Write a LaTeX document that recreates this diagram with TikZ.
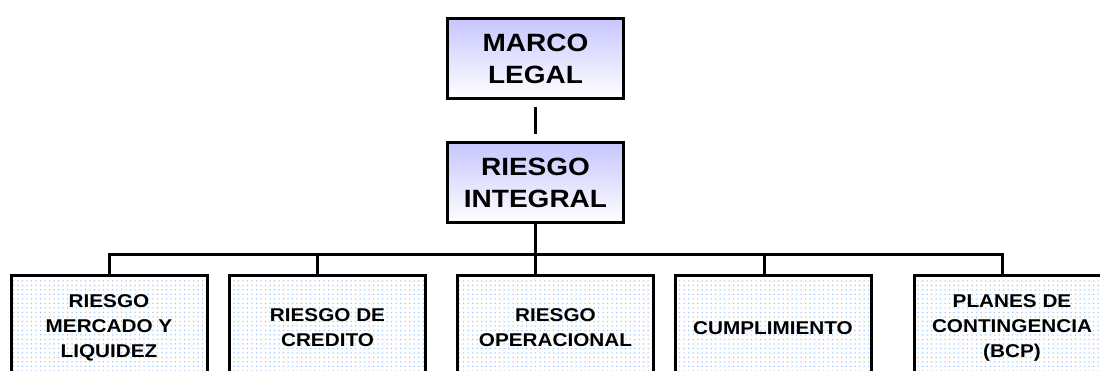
\documentclass[tikz,border=0pt]{standalone}
\usepackage{fontspec}
\setmainfont{Liberation Sans}[FakeStretch=1.12]
\usetikzlibrary{patterns.meta}
\definecolor{lavanda}{RGB}{198,198,255}
\definecolor{puntos}{RGB}{150,195,250}
\begin{document}
\begin{tikzpicture}[x=1pt,y=-1pt,line width=3pt,
    cabeza/.style={draw,top color=lavanda,bottom color=white,minimum width=176pt,minimum height=80pt,align=center,font=\fontsize{25}{32}\selectfont\bfseries},
    area/.style={draw,pattern={Dots[distance=4.5pt,radius=0.75pt]},pattern color=puntos,minimum width=196pt,minimum height=104pt,align=center,font=\fontsize{18.5}{25}\selectfont\bfseries}]
  \useasboundingbox (0,0) rectangle (1100,371);
  \clip (0,0) rectangle (1100,371);
  \node[cabeza] (marco) at (535.5,58.5) {MARCO\\LEGAL};
  \node[cabeza] (integral) at (535.5,183) {RIESGO\\INTEGRAL};
  \coordinate (barra) at (535.5,255);
  \node[area] (mercado) at (109,328) {RIESGO\\MERCADO Y\\LIQUIDEZ};
  \node[area] (credito) at (327.5,328) {RIESGO DE\\CREDITO};
  \node[area] (operacional) at (555.5,328) {RIESGO\\OPERACIONAL};
  \node[area] (cumplimiento) at (773,328) {CUMPLIMIENTO};
  \node[area] (planes) at (1012,328) {PLANES DE\\CONTINGENCIA\\(BCP)};
  \coordinate (bajaB) at ([xshift=-10.5pt]credito.north);
  \coordinate (bajaD) at ([xshift=-9pt]cumplimiento.north);
  \coordinate (bajaE) at ([xshift=-10pt]planes.north);
  \draw ([yshift=-7pt]marco.south) -- ([yshift=7pt]integral.north);
  \draw (integral.south) -- (barra);
  \draw (mercado.north) -- (mercado.north |- barra) -| (bajaE);
  \draw (barra -| bajaB) -- (bajaB);
  \draw (barra) -- (barra |- operacional.north);
  \draw (barra -| bajaD) -- (bajaD);
\end{tikzpicture}
\end{document}
